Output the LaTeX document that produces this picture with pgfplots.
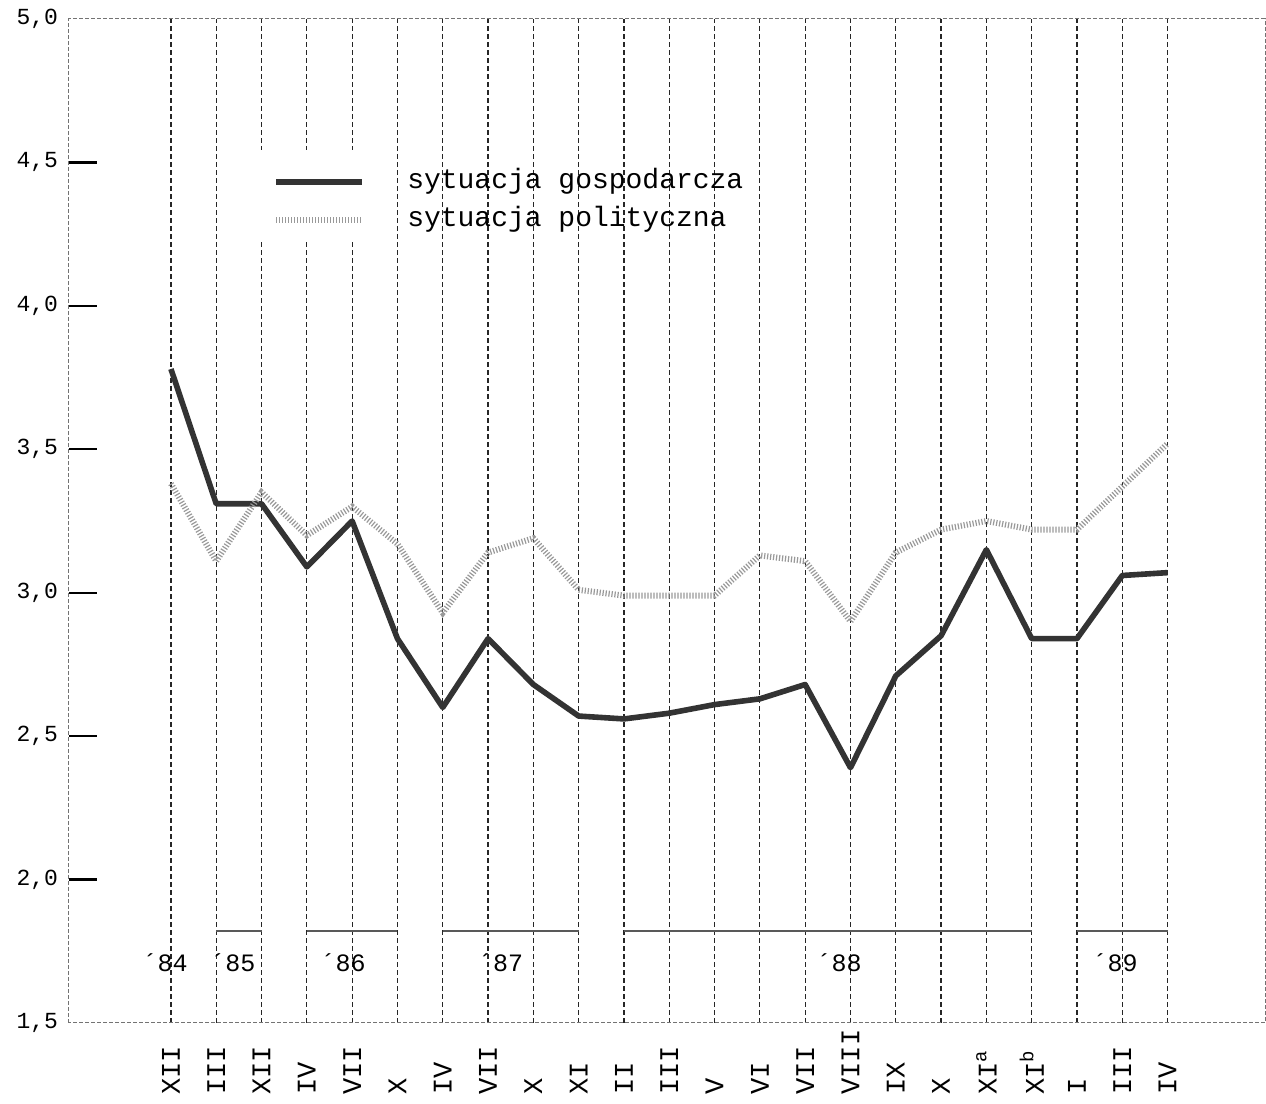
\documentclass[border=0pt]{standalone}
\usepackage{pgfplots}
\pgfplotsset{compat=1.18}
\usepackage{fontspec}
\setmainfont{Liberation Mono}

\begin{document}
\begin{tikzpicture}
\begin{axis}[
  scale only axis,
  width=598pt, height=502pt,
  xmin=-2.25, xmax=24.15,
  ymin=1.5, ymax=5.0,
  xtick={0,...,22},
  xticklabels={XII,III,XII,IV,VII,X,IV,VII,X,XI,II,III,V,VI,VII,VIII,IX,X,XI\textsuperscript{a},XI\textsuperscript{b},I,III,IV},
  xmajorgrids,
  major grid style={black!85, line width=0.6pt, dash pattern=on 2.5pt off 1.5pt},
  xticklabel shift=36pt,
  xticklabel style={rotate=90, anchor=west, inner sep=0pt, font=\fontsize{13.5}{15}\selectfont},
  ytick={2,2.5,3,3.5,4,4.5},
  yticklabels={{2,0},{2,5},{3,0},{3,5},{4,0},{4,5}},
  extra y ticks={1.5,5},
  extra y tick labels={{1,5},{5,0}},
  extra y tick style={major tick length=0pt},
  ytick pos=left,
  xtick pos=bottom,
  tick align=inside,
  major tick length=14pt,
  tick style={black, line width=1.2pt},
  every x tick/.style={draw=none},
  yticklabel style={font=\fontsize{11.5}{13}\selectfont, xshift=-2pt},
  axis line style={black!55, line width=0.5pt, dash pattern=on 2pt off 1pt},
  legend style={at={(axis cs:2.25,4.366)}, anchor=west, draw=none, fill=none, inner sep=0pt,
    font=\fontsize{14}{16}\selectfont, row sep=4pt, column sep=20pt,
    nodes={inner sep=1pt, text height=10pt, text depth=3pt}},
  legend cell align=left,
  legend image code/.code={\draw[#1, line cap=butt] (0pt,0pt) -- (43pt,0pt);},
]
\fill[white] (axis cs:1.85,4.543) rectangle (axis cs:4.6,4.23);

\addplot[black!80, line width=2.8pt, line join=round] coordinates {
(0,3.78)(1,3.31)(2,3.31)(3,3.09)(4,3.25)(5,2.84)(6,2.60)(7,2.84)(8,2.68)(9,2.57)(10,2.56)(11,2.58)(12,2.61)(13,2.63)(14,2.68)(15,2.39)(16,2.71)(17,2.85)(18,3.15)(19,2.84)(20,2.84)(21,3.06)(22,3.07)};
\addlegendentry{sytuacja gospodarcza}

\addplot[black!40, line width=3pt, dash pattern=on 0.6pt off 0.9pt] coordinates {
(0,3.38)(1,3.11)(2,3.35)(3,3.20)(4,3.30)(5,3.17)(6,2.93)(7,3.14)(8,3.19)(9,3.01)(10,2.99)(11,2.99)(12,2.99)(13,3.13)(14,3.11)(15,2.90)(16,3.14)(17,3.22)(18,3.25)(19,3.22)(20,3.22)(21,3.37)(22,3.52)};
\addlegendentry{sytuacja polityczna}

\addplot[black!65, line width=1pt, forget plot] coordinates {(1,1.82)(2,1.82)};
\addplot[black!65, line width=1pt, forget plot] coordinates {(3,1.82)(5,1.82)};
\addplot[black!65, line width=1pt, forget plot] coordinates {(6,1.82)(9,1.82)};
\addplot[black!65, line width=1pt, forget plot] coordinates {(10,1.82)(19,1.82)};
\addplot[black!65, line width=1pt, forget plot] coordinates {(20,1.82)(22,1.82)};

\node[font=\fontsize{12.5}{14}\selectfont] at (axis cs:-0.13,1.71) {´84};
\node[font=\fontsize{12.5}{14}\selectfont] at (axis cs:1.37,1.71) {´85};
\node[font=\fontsize{12.5}{14}\selectfont] at (axis cs:3.8,1.71) {´86};
\node[font=\fontsize{12.5}{14}\selectfont] at (axis cs:7.28,1.71) {´87};
\node[font=\fontsize{12.5}{14}\selectfont] at (axis cs:14.75,1.71) {´88};
\node[font=\fontsize{12.5}{14}\selectfont] at (axis cs:20.84,1.71) {´89};
\end{axis}
\pgfresetboundingbox
\path ([shift={(-34.5pt,-40.5pt)}]current axis.south west) rectangle ([shift={(0.5pt,9.5pt)}]current axis.north east);
\end{tikzpicture}
\end{document}
